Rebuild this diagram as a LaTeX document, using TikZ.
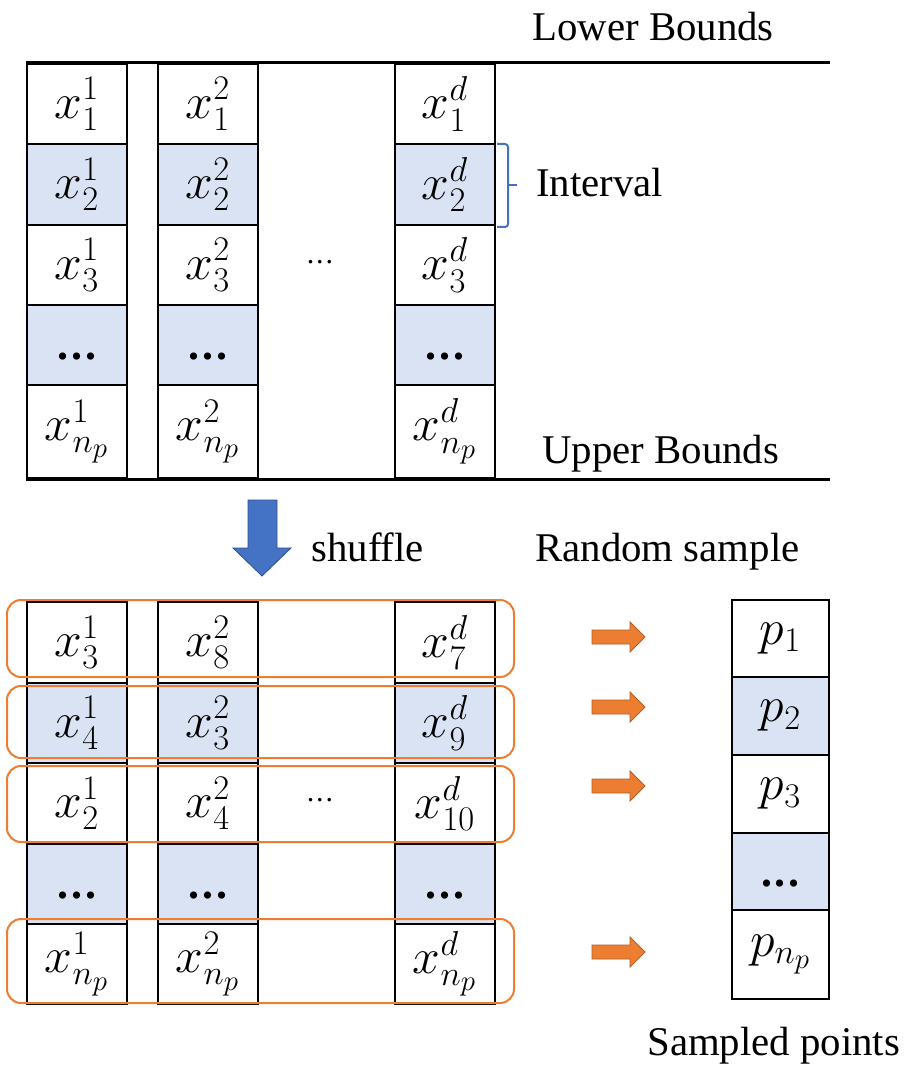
\documentclass[tikz,border=0pt]{standalone}
\usepackage[no-math]{fontspec}
\setmainfont{Liberation Serif}
\definecolor{cellblue}{HTML}{DAE3F3}
\definecolor{accorange}{HTML}{ED7D31}
\definecolor{accblue}{HTML}{4472C4}
\DeclareMathSizes{25}{25}{18}{14}
\newcommand\mathsz{\fontsize{25}{29}\selectfont}
\newcommand\txtsz{\fontsize{20.4}{24}\selectfont}
\newcommand\celldots{\textbf{.\kern1.4pt.\kern1.4pt.}}
\begin{document}
\begin{tikzpicture}[x=0.5pt,y=-0.5pt,
  cell/.style={draw=black, line width=1pt, minimum width=50pt, inner sep=0pt, font=\mathsz},
  pcell/.style={cell, minimum width=48.5pt},
  shaded/.style={fill=cellblue},
  lbl/.style={inner sep=0pt, font=\txtsz, anchor=base west},
  dotlbl/.style={inner sep=0pt, font=\fontsize{22}{26}\selectfont},
  middots/.style={inner sep=0pt, font=\fontsize{15}{18}\selectfont},
  bound/.style={line width=1.5pt},
  group/.style={draw=accorange, line width=1pt, rounded corners=7pt},
  orarrow/.style={fill=accorange, draw=accorange!75!black, line width=0.4pt},
  bluearrow/.style={fill=accblue, draw=accblue!70!black, line width=0.4pt},
  bracket/.style={draw=accblue, line width=1pt}
]
\fill[white] (0,0) rectangle (914,1079);
\useasboundingbox (0,0) rectangle (914,1079);

% ---------- top table ----------
\node[cell, minimum height=40pt] (a1) at (77,104) {$x_1^1$};
\node[cell, minimum height=40pt] (b1) at (208,104) {$x_1^2$};
\node[cell, minimum height=40pt] (c1) at (445,104) {$x_1^d$};
\node[cell, shaded, minimum height=40.5pt] (a2) at (77,184.5) {$x_2^1$};
\node[cell, shaded, minimum height=40.5pt] (b2) at (208,184.5) {$x_2^2$};
\node[cell, shaded, minimum height=40.5pt] (c2) at (445,184.5) {$x_2^d$};
\node[cell, minimum height=40pt] (a3) at (77,265) {$x_3^1$};
\node[cell, minimum height=40pt] (b3) at (208,265) {$x_3^2$};
\node[cell, minimum height=40pt] (c3) at (445,265) {$x_3^d$};
\node[cell, shaded, minimum height=40pt] (a4) at (77,345) {};
\node[cell, shaded, minimum height=40pt] (b4) at (208,345) {};
\node[cell, shaded, minimum height=40pt] (c4) at (445,345) {};
\node[dotlbl] (a4t) at ([yshift=-6pt]a4.center) {\celldots};
\node[dotlbl] (b4t) at ([yshift=-6pt]b4.center) {\celldots};
\node[dotlbl] (c4t) at ([yshift=-6pt]c4.center) {\celldots};
\node[cell, minimum height=46.5pt] (a5) at (77,431.5) {$x_{n_p}^1$};
\node[cell, minimum height=46.5pt] (b5) at (208,431.5) {$x_{n_p}^2$};
\node[cell, minimum height=46.5pt] (c5) at (445,431.5) {$x_{n_p}^d$};
\node[middots] (topdots) at (320,262) {.\kern1pt.\kern1pt.};

\draw[bound] (26,63) -- (830,63);
\draw[bound] (26,479) -- (830,479);

\node[lbl] (lower) at (532,41) {Lower Bounds};
\node[lbl] (upper) at (542,463) {Upper Bounds};
\node[lbl] (interval) at (536,197) {Interval};
\draw[bracket, rounded corners=1.5pt] (497,144) -- (508,144) -- (508,227) -- (497,227);
\draw[bracket] (508,185.5) -- (517,185.5);

% ---------- shuffle ----------
\filldraw[bluearrow] (248,500) -- (277,500) -- (277,548) -- (291,548) -- (262,576) -- (233,548) -- (248,548) -- cycle;
\node[lbl] (shuf) at (311,561) {shuffle};
\node[lbl] (rand) at (535,561) {Random sample};

% ---------- bottom table ----------
\node[cell, minimum height=40.5pt] (d1) at (77,642.5) {$x_3^1$};
\node[cell, minimum height=40.5pt] (e1) at (208,642.5) {$x_8^2$};
\node[cell, minimum height=40.5pt] (f1) at (445,642.5) {$x_7^d$};
\node[cell, shaded, minimum height=40pt] (d2) at (77,723) {$x_4^1$};
\node[cell, shaded, minimum height=40pt] (e2) at (208,723) {$x_3^2$};
\node[cell, shaded, minimum height=40pt] (f2) at (445,723) {$x_9^d$};
\node[cell, minimum height=40.5pt] (d3) at (77,803.5) {$x_2^1$};
\node[cell, minimum height=40.5pt] (e3) at (208,803.5) {$x_4^2$};
\node[cell, minimum height=40.5pt] (f3) at (445,803.5) {$x_{10}^d$};
\node[cell, shaded, minimum height=40pt] (d4) at (77,884) {};
\node[cell, shaded, minimum height=40pt] (e4) at (208,884) {};
\node[cell, shaded, minimum height=40pt] (f4) at (445,884) {};
\node[dotlbl] (d4t) at ([yshift=-6pt]d4.center) {\celldots};
\node[dotlbl] (e4t) at ([yshift=-6pt]e4.center) {\celldots};
\node[dotlbl] (f4t) at ([yshift=-6pt]f4.center) {\celldots};
\node[cell, minimum height=40pt] (d5) at (77,964) {$x_{n_p}^1$};
\node[cell, minimum height=40pt] (e5) at (208,964) {$x_{n_p}^2$};
\node[cell, minimum height=40pt] (f5) at (445,964) {$x_{n_p}^d$};
\node[middots] (botdots) at (320,800) {.\kern1pt.\kern1pt.};

\draw[group] (7,600) rectangle (514,677);
\draw[group] (7,686) rectangle (514,758);
\draw[group] (7,766) rectangle (514,842);
\draw[group] (7,919) rectangle (514,1003);

\foreach \yy in {637,707,786,952}
  \filldraw[orarrow] (592,\yy-7) -- (630,\yy-7) -- (630,\yy-15) -- (645,\yy) -- (630,\yy+15) -- (630,\yy+7) -- (592,\yy+7) -- cycle;

% ---------- sampled points ----------
\node[pcell, minimum height=38.5pt] (p1) at (780.5,638.5) {$p_1$};
\node[pcell, shaded, minimum height=39pt] (p2) at (780.5,716) {$p_2$};
\node[pcell, minimum height=39pt] (p3) at (780.5,794) {$p_3$};
\node[pcell, shaded, minimum height=38.5pt] (p4) at (780.5,871.5) {};
\node[dotlbl] (p4t) at ([yshift=-6pt]p4.center) {\celldots};
\node[pcell, minimum height=44.5pt] (p5) at (780.5,954.5) {$p_{n_p}$};
\node[lbl] (samp) at (647,1055) {Sampled points};
\end{tikzpicture}
\end{document}
